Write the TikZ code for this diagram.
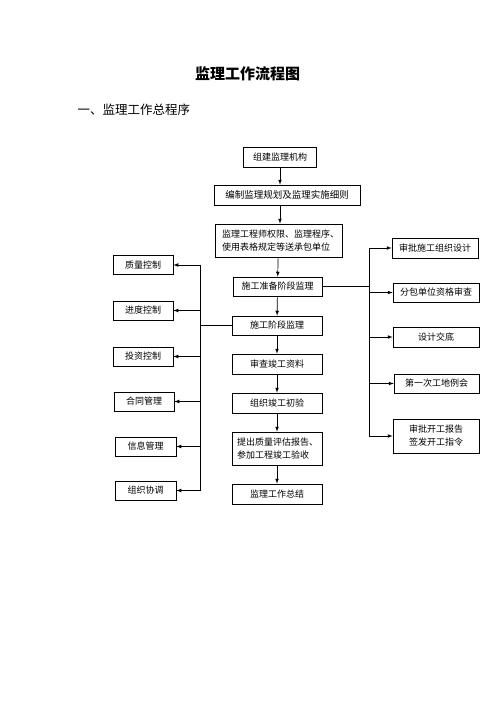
\documentclass[tikz,border=0pt]{standalone}
\usepackage{fontspec}
\newfontfamily\cjk{Noto Sans CJK SC}
\usetikzlibrary{arrows}
\tikzstyle{stage} = [rectangle, draw=black, line width=0.7pt, inner sep=0pt,
                     minimum width=90pt, minimum height=20pt, align=center,
                     font=\cjk\fontsize{9}{13}\selectfont]
\tikzstyle{ctrl} = [stage, minimum width=60pt, minimum height=19pt]
\tikzstyle{task} = [stage, minimum width=86pt]
\tikzstyle{link} = [>=latex, line width=0.7pt]

\begin{document}
\begin{tikzpicture}[x=1pt,y=-1pt]
    \useasboundingbox (0,0) rectangle (496,702);
    \node[font=\cjk\bfseries\fontsize{15}{17}\selectfont] (title) at (247.5,74) {监理工作流程图};
    \node[anchor=west, font=\cjk\fontsize{12.5}{15}\selectfont] (subtitle) at (74,110) {一、监理工作总程序};
    \node[stage, minimum width=73pt] (org) at (280,157) {组建监理机构};
    \node[stage, minimum width=146pt, font=\cjk\fontsize{9.5}{13}\selectfont] (plan) at (287,195) {编制监理规划及监理实施细则};
    \node[stage, minimum height=33pt, inner xsep=7pt, text width=113pt, align=left] (rights) at (278.5,240.5) {监理工程师权限、监理程序、\\使用表格规定等送承包单位};
    \draw[link,->] (org) -- (org |- plan.north);
    \draw[link,->] (plan.south -| org) -- (rights.north -| org);
    \node[stage, minimum width=89pt, minimum height=19pt] (prep) at (277.5,286.5) {施工准备阶段监理} edge [link,<-] (rights);
    \node[stage, minimum height=19pt] (exec) at (277,325.5) {施工阶段监理} edge [link,<-] (prep);
    \node[stage] (docs) at (277,364) {审查竣工资料} edge [link,<-] (exec);
    \node[stage] (check) at (277,403) {组织竣工初验} edge [link,<-] (docs);
    \node[stage, minimum height=33pt, inner xsep=5pt, text width=80pt, align=left] (report) at (277,448.5) {提出质量评估报告、\\参加工程竣工验收} edge [link,<-] (check);
    \node[stage] (summary) at (277,494) {监理工作总结} edge [link,<-] (report);
    \node[ctrl] (quality) at (143,265) {质量控制};
    \node[ctrl] (schedule) at (143,310.5) {进度控制};
    \node[ctrl] (cost) at (143,356.5) {投资控制};
    \node[ctrl] (contract) at (144,401.5) {合同管理};
    \node[ctrl, minimum width=61pt] (info) at (145.5,446.5) {信息管理};
    \node[ctrl, minimum width=61pt] (coord) at (145.5,490.5) {组织协调};
    \coordinate (lbus) at (200,0);
    \draw[link] (exec.west) -- (exec.west -| lbus);
    \draw[link] (quality.east -| lbus) -- (coord.east -| lbus);
    \foreach \n in {quality,schedule,cost,contract,info,coord}
        \draw[link,->] (\n.east -| lbus) -- (\n.east);
    \node[task] (design) at (435,248) {审批施工组织设计};
    \node[task, minimum height=19pt] (subcon) at (436,292.5) {分包单位资格审查};
    \node[task] (briefing) at (436,337) {设计交底};
    \node[task, minimum width=85pt, minimum height=19pt] (meeting) at (436.5,383.5) {第一次工地例会};
    \node[task, minimum height=34pt] (startup) at (436,436) {审批开工报告\\签发开工指令};
    \coordinate (rbus) at (369,0);
    \draw[link] (prep.east) -- (prep.east -| rbus);
    \draw[link] (design.west -| rbus) -- (startup.west -| rbus);
    \foreach \n in {design,subcon,briefing,meeting,startup}
        \draw[link,->] (\n.west -| rbus) -- (\n.west);
\end{tikzpicture}
\end{document}
